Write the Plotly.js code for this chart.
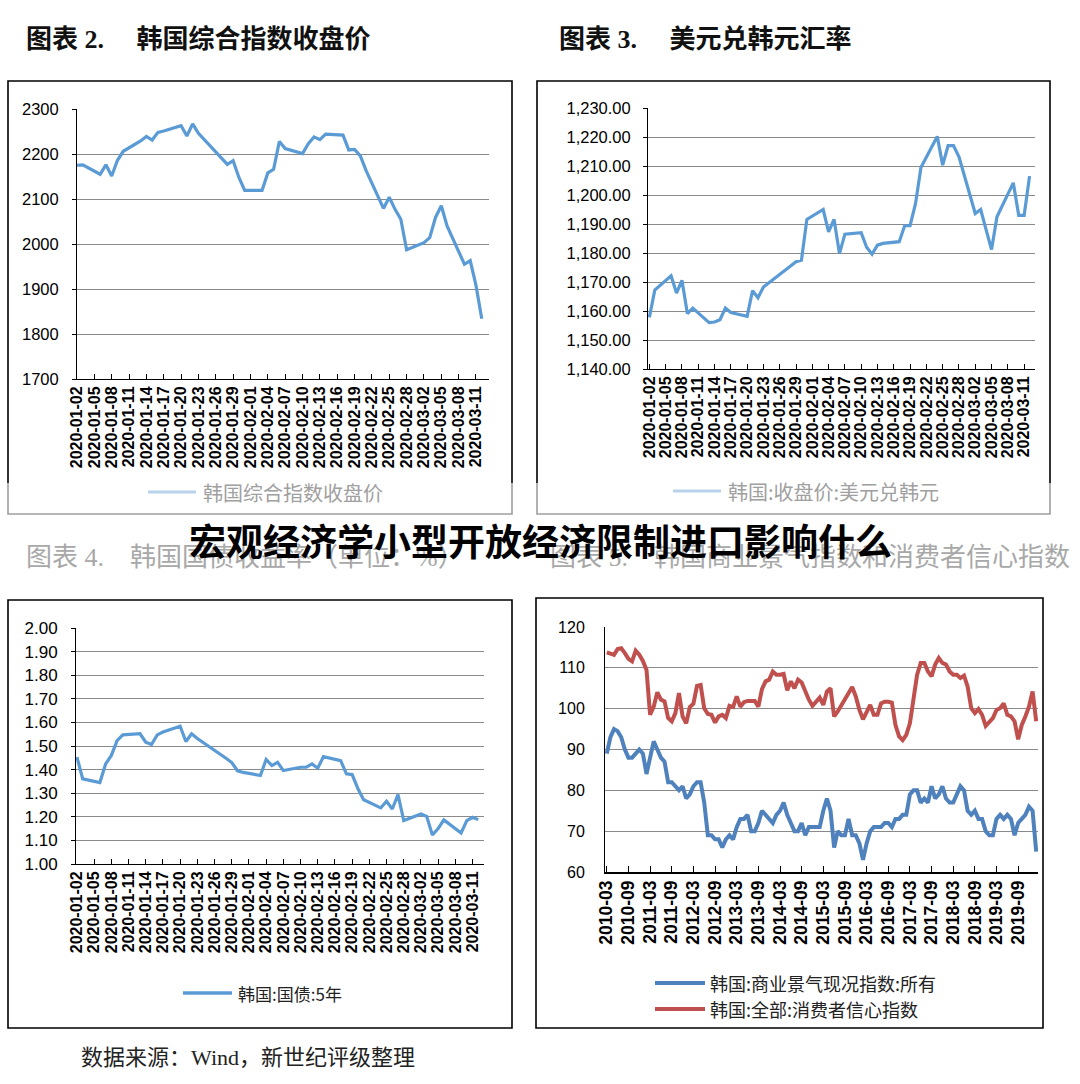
<!DOCTYPE html>
<html><head><meta charset="utf-8">
<script src="https://cdn.plot.ly/plotly-3.0.1.min.js"></script>
<style>html,body{margin:0;padding:0;background:#fff}#chart{width:1080px;height:1084px}</style>
</head><body><div id="chart"></div>
<script>
// ---------- data ----------
const tradeDates = [
 '2020-01-02','2020-01-03','2020-01-06','2020-01-07','2020-01-08','2020-01-09','2020-01-10',
 '2020-01-13','2020-01-14','2020-01-15','2020-01-16','2020-01-17','2020-01-20','2020-01-21',
 '2020-01-22','2020-01-23','2020-01-28','2020-01-29','2020-01-30','2020-01-31',
 '2020-02-03','2020-02-04','2020-02-05','2020-02-06','2020-02-07','2020-02-10','2020-02-11',
 '2020-02-12','2020-02-13','2020-02-14','2020-02-17','2020-02-18','2020-02-19','2020-02-20',
 '2020-02-21','2020-02-24','2020-02-25','2020-02-26','2020-02-27','2020-02-28',
 '2020-03-02','2020-03-03','2020-03-04','2020-03-05','2020-03-06','2020-03-09','2020-03-10',
 '2020-03-11','2020-03-12'];
const kospiClose = [
 2175,2176,2155,2176,2151,2186,2206,2229,2239,2231,2248,2251,2263,2240,2267,2246,2177,2185,2148,2119,
 2119,2158,2166,2228,2212,2201,2223,2238,2232,2244,2242,2209,2210,2196,2163,2079,2104,2077,2055,1987,
 2003,2014,2059,2085,2040,1955,1963,1908,1834];
const usdKrw = [
 1157.8,1167.2,1172.1,1166.2,1170.6,1159.1,1161.0,1156.0,1156.2,1157.0,1161.0,1159.5,1158.2,1167.0,
 1164.6,1168.3,1175.5,1177.0,1177.5,1191.6,
 1195.0,1187.3,1191.6,1179.8,1186.5,1187.0,1182.0,1179.6,1182.7,1183.3,1183.9,1189.4,1189.4,1197.0,
 1209.5,1220.2,1210.3,1217.0,1217.0,1213.2,
 1193.6,1195.0,1188.0,1181.2,1192.5,1204.2,1193.0,1193.0,1206.5];
const ktb5y = [
 1.453,1.361,1.345,1.424,1.460,1.523,1.547,1.552,1.516,1.506,1.547,1.559,1.584,1.519,1.552,1.532,
 1.448,1.430,1.395,1.388,
 1.375,1.443,1.417,1.431,1.396,1.410,1.410,1.424,1.406,1.455,1.438,1.382,1.379,1.320,1.272,
 1.238,1.266,1.233,1.294,1.184,
 1.212,1.202,1.123,1.150,1.187,1.131,1.184,1.198,1.188];

// monthly categories 2010-03 .. 2020-02
const months = [];
for (let y = 2010; y <= 2020; y++) {
  for (let m = 1; m <= 12; m++) {
    if ((y === 2010 && m < 3) || (y === 2020 && m > 2)) continue;
    months.push(y + '-' + String(m).padStart(2, '0'));
  }
}
const bsiAll = [
 89,93,95,94.5,93,90,88,88,89,90,89,84,88,92,90,88,87,82,82,81,
 80,81,78,79,81,82,82,77,69,69,68,68,66,68,69,68,71,73,73,74,
 70,70,72,75,74,73,72,74,75,77,74,72,70,70,72,69,71,71,71,71,
 75,78,75,66,70,69,69,73,69,69,67,63,67,70,71,71,71,72,72,71,
 73,73,74,74,79,80,80,77,78,77,81,78,79,81,78,77,77,79,81,80,
 75,74,75,73,73,70,69,69,73,74,73,74,73,69,72,73,74,76,75,65];
const ccsiAll = [
 113.8,113.5,113.2,114.6,114.8,113.6,112.2,111.6,114.2,113.2,111.7,109.5,98.5,100.5,104,102.2,101.8,97.7,96.9,98.9,
 103.8,98.1,96.4,100.4,101.2,105.6,105.8,100.1,98.7,98.5,96.6,98.1,98.5,97.7,100.7,100.4,103,100.5,101.6,101.9,
 101.9,101.9,100.5,104.8,106.7,107.1,109.1,108.3,108.3,108.5,104.5,106.7,105,107.1,106.4,104.2,102.2,100.7,101.8,102.7,
 100.9,104.2,105,98.1,99.3,100.9,102.2,103.6,105.3,103,99.7,97.4,99.1,100.9,98.5,98.5,101.3,101.7,101.7,101.5,
 96,93.2,92.3,93.6,96.4,102.2,108.3,111.2,111.2,109.1,107.9,110.8,112.4,111.2,110.8,109.1,108.3,108.3,107.5,108.1,
 105.4,100.1,98.9,99.9,98.5,95.8,96.9,97.7,99.7,100.1,101.3,98.5,98.1,96.9,92.5,96,98.1,100.5,104.2,96.9];
const monthTickLabels = ['2010-03','2010-09','2011-03','2011-09','2012-03','2012-09','2013-03','2013-09',
 '2014-03','2014-09','2015-03','2015-09','2016-03','2016-09','2017-03','2017-09','2018-03','2018-09',
 '2019-03','2019-09'];

const titles = ['图表 2.　 韩国综合指数收盘价', '图表 3.　 美元兑韩元汇率',
  '图表 4.　韩国国债收益率（单位：%）', '图表 5.　韩国商业景气指数和消费者信心指数'];
const legendNames = ['韩国综合指数收盘价', '韩国:收盘价:美元兑韩元', '韩国:国债:5年',
  '韩国:商业景气现况指数:所有', '韩国:全部:消费者信心指数'];
const overlayTitle = '宏观经济学小型开放经济限制进口影响什么';
const sourceNote = '数据来源：Wind，新世纪评级整理';

// ---------- layout helpers ----------
const W = 1080, H = 1084;
const px = v => v / W;
const py = v => 1 - v / H;
const SANS = 'Liberation Sans, Arial, sans-serif';
const CJK = 'Liberation Serif, Noto Sans CJK SC, serif';
const LEG = 'Noto Sans CJK SC, sans-serif';
const BLUE = '#5B9BD5';

const dayMs = 86400000;
function dateX(domain, size) {
  return {
    domain: domain, type: 'date', tick0: '2020-01-02', dtick: 3 * dayMs,
    tickformat: '%Y-%m-%d', tickangle: -90, ticks: 'inside', ticklen: 5, tickcolor: '#000',
    showline: true, linecolor: '#000', linewidth: 1, showgrid: false, zeroline: false,
    tickfont: {family: SANS, size: size, color: '#000', weight: 'bold'}, fixedrange: true
  };
}
function valY(domain, range, dtick, fmt, size, standoff) {
  return {
    domain: domain, range: range, dtick: dtick, tickformat: fmt,
    showgrid: true, gridcolor: '#8a8a8a', gridwidth: 1, zeroline: false,
    showline: true, linecolor: '#000', linewidth: 1,
    ticks: 'outside', ticklen: 4, tickcolor: '#000', ticklabelstandoff: standoff,
    tickfont: {family: SANS, size: size, color: '#000'}, fixedrange: true
  };
}

const traces = [
  {x: tradeDates, y: kospiClose, xaxis: 'x', yaxis: 'y', mode: 'lines', name: legendNames[0],
   line: {color: BLUE, width: 3.2}, showlegend: false},
  {x: tradeDates, y: usdKrw, xaxis: 'x2', yaxis: 'y2', mode: 'lines', name: legendNames[1],
   line: {color: BLUE, width: 3.2}, showlegend: false},
  {x: tradeDates, y: ktb5y, xaxis: 'x3', yaxis: 'y3', mode: 'lines', name: legendNames[2],
   line: {color: BLUE, width: 3.2}, legend: 'legend'},
  {x: months, y: bsiAll, xaxis: 'x4', yaxis: 'y4', mode: 'lines', name: legendNames[3],
   line: {color: '#4F81BD', width: 4}, legend: 'legend2'},
  {x: months, y: ccsiAll, xaxis: 'x4', yaxis: 'y4', mode: 'lines', name: legendNames[4],
   line: {color: '#C0504D', width: 4}, legend: 'legend2'}
];

const boxes = [[8, 81, 512, 514], [537, 81, 1050, 514], [8, 600, 512, 1028], [536, 598, 1043, 1028]];
const shapes = boxes.map(b => ({type: 'rect', xref: 'paper', yref: 'paper',
  x0: px(b[0]), x1: px(b[2]), y0: py(b[3]), y1: py(b[1]), line: {color: '#000', width: 1.6}, layer: 'above'}));
// faded band over the bottom of the top two panels
shapes.push({type: 'rect', xref: 'paper', yref: 'paper', x0: 0, x1: 1, y0: py(516), y1: py(483),
  fillcolor: 'rgba(255,255,255,0.62)', line: {width: 0}, layer: 'above'});
// faded legend lines of the top two panels
shapes.push({type: 'line', xref: 'paper', yref: 'paper', x0: px(148), x1: px(196), y0: py(492), y1: py(492),
  line: {color: '#b9d3ec', width: 3}, layer: 'above'});
shapes.push({type: 'line', xref: 'paper', yref: 'paper', x0: px(673), x1: px(721), y0: py(491), y1: py(491),
  line: {color: '#b9d3ec', width: 3}, layer: 'above'});
// legend line of the bottom-left panel
shapes.push({type: 'line', xref: 'paper', yref: 'paper', x0: px(183), x1: px(232), y0: py(993), y1: py(993),
  line: {color: BLUE, width: 3.5}, layer: 'above'});
// legend lines of the bottom-right panel
shapes.push({type: 'line', xref: 'paper', yref: 'paper', x0: px(655), x1: px(705), y0: py(983), y1: py(983),
  line: {color: '#4F81BD', width: 4}, layer: 'above'});
shapes.push({type: 'line', xref: 'paper', yref: 'paper', x0: px(655), x1: px(705), y0: py(1009), y1: py(1009),
  line: {color: '#C0504D', width: 4}, layer: 'above'});

const annotations = [
  {text: '<b>' + titles[0] + '</b>', x: px(24), y: py(40), xanchor: 'left', yanchor: 'middle',
   font: {family: CJK, size: 26, color: '#111'}},
  {text: '<b>' + titles[1] + '</b>', x: px(557), y: py(40), xanchor: 'left', yanchor: 'middle',
   font: {family: CJK, size: 26, color: '#111'}},
  {text: titles[2], x: px(24), y: py(557), xanchor: 'left', yanchor: 'middle',
   font: {family: CJK, size: 26, color: '#a8a8a8'}},
  {text: titles[3], x: px(548), y: py(557), xanchor: 'left', yanchor: 'middle',
   font: {family: CJK, size: 26, color: '#a8a8a8'}},
  {text: '<b>' + overlayTitle + '</b>', x: px(540), y: py(540), xanchor: 'center', yanchor: 'middle',
   font: {family: 'Noto Sans CJK SC, sans-serif', size: 37, color: '#000', weight: 900}},
  {text: legendNames[0], x: px(201), y: py(492), xanchor: 'left', yanchor: 'middle',
   font: {family: LEG, size: 20, color: '#a0a0a0'}},
  {text: legendNames[1], x: px(726), y: py(491), xanchor: 'left', yanchor: 'middle',
   font: {family: LEG, size: 20, color: '#a0a0a0'}},
  {text: legendNames[2], x: px(236), y: py(993), xanchor: 'left', yanchor: 'middle',
   font: {family: LEG, size: 17, color: '#222'}},
  {text: legendNames[3], x: px(708), y: py(983), xanchor: 'left', yanchor: 'middle',
   font: {family: LEG, size: 18, color: '#222'}},
  {text: legendNames[4], x: px(708), y: py(1009), xanchor: 'left', yanchor: 'middle',
   font: {family: LEG, size: 18, color: '#222'}},
  {text: sourceNote, x: px(79), y: py(1057), xanchor: 'left', yanchor: 'middle',
   font: {family: CJK, size: 22, color: '#222'}}
].map(a => Object.assign({xref: 'paper', yref: 'paper', showarrow: false}, a));

const layout = {
  width: W, height: H, margin: {l: 0, r: 0, t: 0, b: 0},
  paper_bgcolor: '#fff', plot_bgcolor: '#fff', showlegend: false,
  xaxis: Object.assign(dateX([px(77), px(489)], 16), {anchor: 'y', range: ['2020-01-02', '2020-03-13 06:00']}),
  yaxis: Object.assign(valY([py(379), py(109)], [1700, 2300], 100, 'd', 16.5, 10), {anchor: 'x'}),
  xaxis2: Object.assign(dateX([px(648), px(1035)], 16), {anchor: 'y2', range: ['2020-01-01 18:00', '2020-03-13']}),
  yaxis2: Object.assign(valY([py(369), py(108)], [1140, 1230], 10, ',.2f', 16.5, 9), {anchor: 'x2'}),
  xaxis3: Object.assign(dateX([px(76), px(484)], 16), {anchor: 'y3', range: ['2020-01-01 20:00', '2020-03-13']}),
  yaxis3: Object.assign(valY([py(864), py(628)], [1, 2], 0.1, '.2f', 17, 10), {anchor: 'x3'}),
  xaxis4: {domain: [px(605), px(1038)], anchor: 'y4', type: 'category', range: [-0.5, months.length - 0.5],
    tickmode: 'array', tickvals: monthTickLabels, ticktext: monthTickLabels, tickangle: -90,
    ticks: 'inside', ticklen: 6, tickcolor: '#000', showline: true, linecolor: '#000', linewidth: 1.5,
    showgrid: false, tickfont: {family: SANS, size: 17.5, color: '#000', weight: 'bold'}, fixedrange: true},
  yaxis4: Object.assign(valY([py(872), py(627)], [60, 120], 10, 'd', 16, 16), {anchor: 'x4', ticks: ''}),
  shapes: shapes,
  annotations: annotations
};

Plotly.newPlot('chart', traces, layout, {displayModeBar: false, staticPlot: true});
</script>
</body></html>
